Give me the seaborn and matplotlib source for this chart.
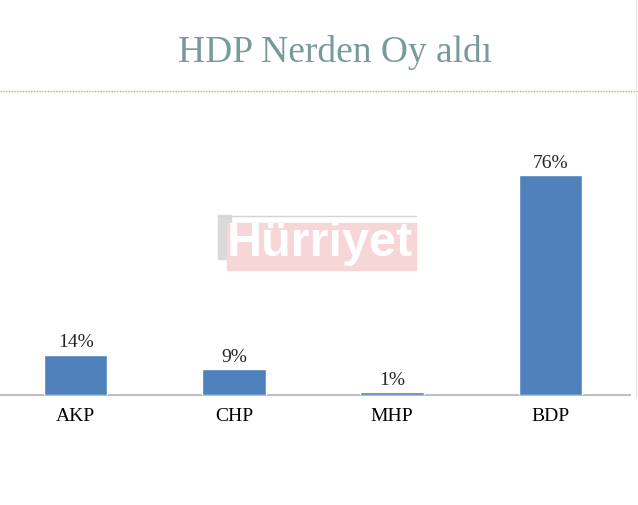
import matplotlib
matplotlib.use("Agg")
import matplotlib.pyplot as plt
import seaborn as sns
import pandas as pd
from matplotlib.lines import Line2D
from matplotlib.patches import Rectangle

# -------------------------------
# Data
# -------------------------------
parties = ["AKP", "CHP", "MHP", "BDP"]
shares = [14, 9, 1, 76]
labels = ["14%", "9%", "1%", "76%"]
title = "HDP Nerden Oy aldı"

df = pd.DataFrame({"Party": parties, "Share": shares})

sns.set_style("white")
plt.rcParams["font.family"] = ["Liberation Serif", "DejaVu Serif"]

W, H = 638, 506
fig = plt.figure(figsize=(W / 100, H / 100), dpi=100)
ax = fig.add_axes([-3.5 / W, 110 / H, 633 / W, 266 / H])

sns.barplot(data=df, x="Party", y="Share", color="#4F81BD",
            width=0.4, saturation=1, ax=ax, zorder=3)

ax.set_xlim(-0.5, 3.5)
ax.set_ylim(0, 92)
ax.set_xlabel("")
ax.set_ylabel("")
ax.set_yticks([])
ax.tick_params(axis="x", length=0, pad=9, labelsize=14, labelcolor="black")
for s in ["top", "left", "right"]:
    ax.spines[s].set_visible(False)
ax.spines["bottom"].set_color("#bfbfbf")
ax.spines["bottom"].set_linewidth(1.5)
ax.spines["bottom"].set_zorder(1)
ax.patch.set_alpha(0)

for i, (v, lab) in enumerate(zip(shares, labels)):
    ax.annotate(lab, (i, v), xytext=(0, 3), textcoords="offset points",
                ha="center", va="bottom", fontsize=14)

# Title and separator line
fig.text(335 / W, 1 - 52 / H, title, ha="center", va="center",
         fontsize=27, color="#789a9a")
fig.add_artist(Line2D([0, 1], [1 - 92 / H] * 2, color="#9cc06a",
                      lw=1, ls=(0, (1, 1)), transform=fig.transFigure))
fig.add_artist(Line2D([636 / W] * 2, [1 - 398 / H, 1], color="#e6e6e6",
                      lw=1, transform=fig.transFigure))

# Watermark
fig.add_artist(Rectangle((218 / W, 1 - 260 / H), 13 / W, 44 / H,
                         transform=fig.transFigure, color="#dadada", zorder=0))
fig.add_artist(Rectangle((227 / W, 1 - 271 / H), 189 / W, 47 / H,
                         transform=fig.transFigure, color="#f6d6d7", zorder=0))
fig.add_artist(Line2D([218 / W, 416 / W], [1 - 217 / H] * 2, color="#d4d4d4",
                      lw=1, transform=fig.transFigure, zorder=0))
fig.text(320 / W, 1 - 244 / H, "Hürriyet", ha="center", va="center",
         fontsize=35, fontweight="bold", color="white",
         family=["Liberation Sans", "DejaVu Sans"], zorder=0.5)

fig.savefig("out.png", dpi=100)
